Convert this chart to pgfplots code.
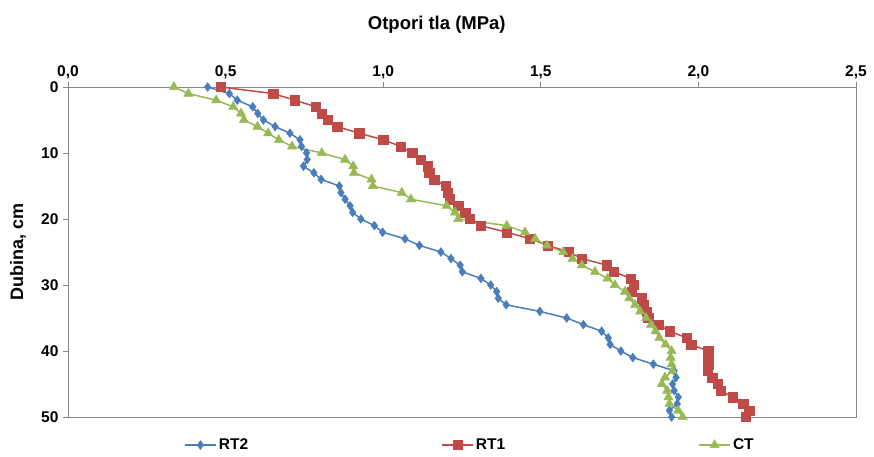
\documentclass[border=0pt]{standalone}
\usepackage{fontspec}
\setmainfont{Liberation Sans}
\usepackage{pgfplots}
\pgfplotsset{compat=1.18}
\definecolor{cRT2}{RGB}{74,126,187}
\definecolor{cRT1}{RGB}{190,75,72}
\definecolor{cCT}{RGB}{152,185,84}
\definecolor{axgray}{RGB}{134,134,134}
\begin{document}
\begin{tikzpicture}
\begin{axis}[
  at={(0,0)}, anchor=center,
  scale only axis, width=788pt, height=330pt,
  xmin=0, xmax=2.5, ymin=0, ymax=50,
  y dir=reverse,
  xtick={0,0.5,...,2.5}, ytick={0,10,...,50},
  xtick pos=upper, xticklabel pos=upper,
  ytick pos=left,
  tick align=outside, major tick length=5pt,
  axis line style={draw=axgray, line width=0.8pt},
  tick style={draw=axgray, line width=0.8pt},
  /pgf/number format/assume math mode=true,
  ticklabel style={font=\bfseries\fontsize{15.5}{17}\selectfont},
  xticklabel style={/pgf/number format/.cd, fixed, fixed zerofill, precision=1, use comma},
  yticklabel style={xshift=-1pt},
  title={Otpori tla (MPa)},
  title style={font=\bfseries\fontsize{18.5}{20}\selectfont, at={(0.468,1.172)}, anchor=center},
  ylabel={Dubina, cm},
  ylabel style={font=\bfseries\fontsize{18}{20}\selectfont, at={(rel axis cs:-0.0635,0.5)}, anchor=center},
  legend columns=3,
  legend style={draw=none, fill=none, at={(0.51,-0.085)}, anchor=center,
    font=\bfseries\fontsize{15.5}{17}\selectfont,
    /tikz/every even column/.append style={column sep=191pt},
    /tikz/every odd column/.append style={column sep=0pt}},
  legend cell align=left,
  legend image code/.code={\draw[mark repeat=2,mark phase=2] plot coordinates {(0cm,0cm) (0.55cm,0cm) (1.1cm,0cm)};},
]
\addplot[color=cRT2, line width=1.5pt, mark=diamond*, mark size=4.4pt, mark options={fill=cRT2, draw=cRT2, line width=0.5pt}] coordinates {
(0.443,0) (0.512,1) (0.537,2) (0.586,3) (0.602,4) (0.620,5) (0.657,6) (0.704,7) (0.736,8) (0.741,9)
(0.757,10) (0.759,11) (0.747,12) (0.780,13) (0.803,14) (0.861,15) (0.866,16) (0.879,17) (0.895,18) (0.903,19)
(0.929,20) (0.972,21) (0.998,22) (1.069,23) (1.115,24) (1.183,25) (1.215,26) (1.244,27) (1.251,28) (1.310,29)
(1.341,30) (1.360,31) (1.365,32) (1.390,33) (1.497,34) (1.582,35) (1.635,36) (1.693,37) (1.714,38) (1.720,39)
(1.754,40) (1.792,41) (1.857,42) (1.923,43) (1.929,44) (1.918,45) (1.923,46) (1.936,47) (1.933,48) (1.908,49) (1.915,50)
};
\addlegendentry{RT2}
\addplot[color=cRT1, line width=1.5pt, mark=square*, mark size=4.6pt, mark options={fill=cRT1, draw=cRT1, line width=0.5pt}] coordinates {
(0.485,0) (0.651,1) (0.720,2) (0.786,3) (0.805,4) (0.823,5) (0.854,6) (0.924,7) (1.000,8) (1.056,9)
(1.092,10) (1.120,11) (1.141,12) (1.146,13) (1.162,14) (1.198,15) (1.205,16) (1.210,17) (1.238,18) (1.260,19)
(1.275,20) (1.309,21) (1.392,22) (1.466,23) (1.522,24) (1.589,25) (1.630,26) (1.710,27) (1.731,28) (1.786,29)
(1.794,30) (1.789,31) (1.819,32) (1.826,33) (1.835,34) (1.841,35) (1.873,36) (1.908,37) (1.963,38) (1.977,39)
(2.031,40) (2.031,41) (2.031,42) (2.029,43) (2.044,44) (2.061,45) (2.071,46) (2.108,47) (2.142,48) (2.161,49) (2.150,50)
};
\addlegendentry{RT1}
\addplot[color=cCT, line width=1.5pt, mark=triangle*, mark size=5.3pt, mark options={fill=cCT, draw=cCT, line width=0.5pt}] coordinates {
(0.336,0) (0.382,1) (0.470,2) (0.524,3) (0.549,4) (0.558,5) (0.601,6) (0.635,7) (0.669,8) (0.711,9)
(0.805,10) (0.879,11) (0.905,12) (0.907,13) (0.963,14) (0.967,15) (1.059,16) (1.088,17) (1.201,18) (1.228,19)
(1.238,20) (1.392,21) (1.450,22) (1.482,23) (1.519,24) (1.571,25) (1.601,26) (1.630,27) (1.672,28) (1.712,29)
(1.735,30) (1.767,31) (1.781,32) (1.799,33) (1.815,34) (1.834,35) (1.850,36) (1.864,37) (1.876,38) (1.896,39)
(1.915,40) (1.912,41) (1.915,42) (1.918,43) (1.894,44) (1.884,45) (1.901,46) (1.905,47) (1.908,48) (1.936,49) (1.950,50)
};
\addlegendentry{CT}
\end{axis}
\pgfresetboundingbox
\useasboundingbox (-462pt,-205pt) rectangle (412pt,252pt);
\end{tikzpicture}
\end{document}
